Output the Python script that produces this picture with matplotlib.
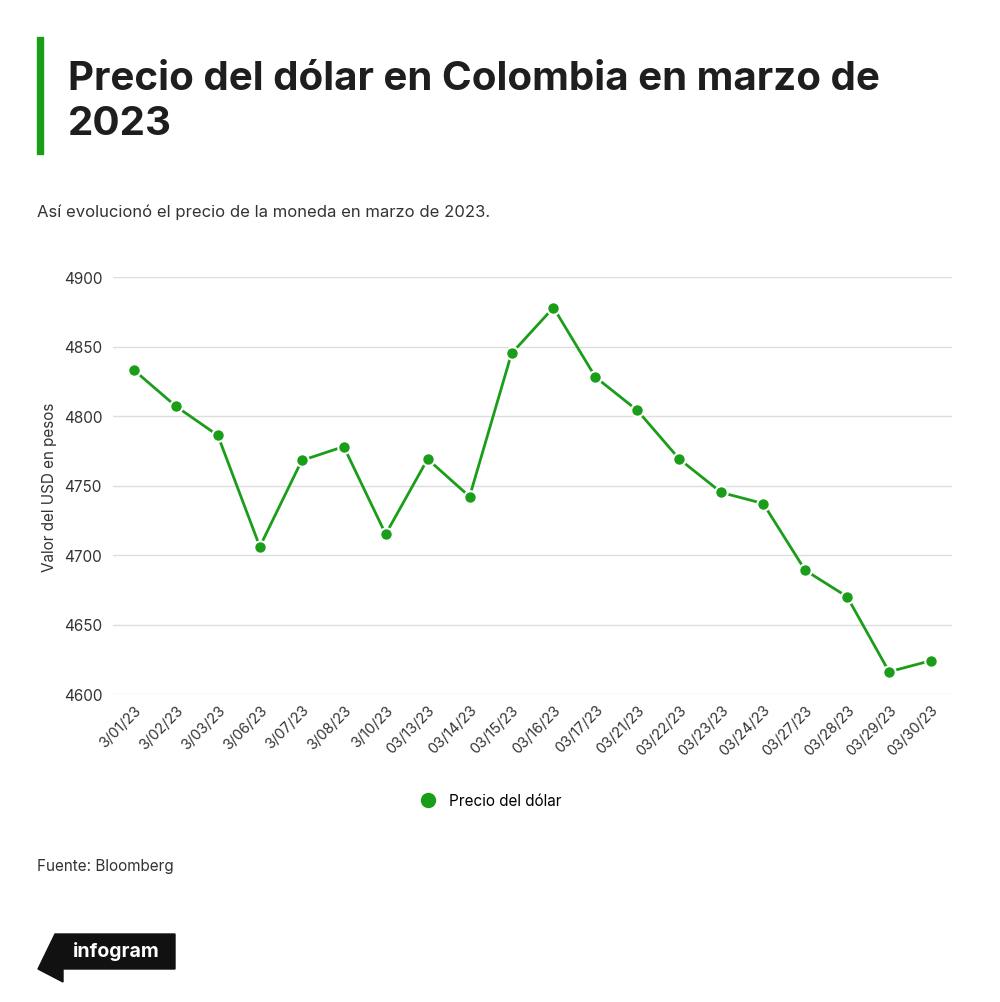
import matplotlib.pyplot as plt
from matplotlib.patches import Polygon

plt.rcParams['font.family'] = ['Inter', 'DejaVu Sans']

fechas = ['3/01/23', '3/02/23', '3/03/23', '3/06/23', '3/07/23', '3/08/23', '3/10/23',
          '03/13/23', '03/14/23', '03/15/23', '03/16/23', '03/17/23', '03/21/23',
          '03/22/23', '03/23/23', '03/24/23', '03/27/23', '03/28/23', '03/29/23', '03/30/23']
precios = [4833, 4807, 4786, 4706, 4768, 4778, 4715, 4769, 4742, 4845,
           4878, 4828, 4804, 4769, 4745, 4737, 4689, 4670, 4616, 4624]
yticks = [4600, 4650, 4700, 4750, 4800, 4850, 4900]

green = '#1a9e1a'
fig = plt.figure(figsize=(10, 10.03), dpi=100)
fig.patch.set_facecolor('white')

# title bar
fig.add_artist(plt.Rectangle((0.037, 1 - 155 / 1003), 0.006, 117 / 1003,
                             transform=fig.transFigure, color=green))
fig.text(0.068, 1 - 102 / 1003, 'Precio del dólar en Colombia en marzo de\n2023',
         fontsize=29, fontweight='bold', color='#1e1e1e', va='center',
         linespacing=1.3)
fig.text(0.037, 1 - 212 / 1003, 'Así evolucionó el precio de la moneda en marzo de 2023.',
         fontsize=12, color='#333333', va='center')

ax = fig.add_axes([0.113, 1 - 695 / 1003, 0.839, 417 / 1003])
x = range(len(fechas))
ax.plot(x, precios, color=green, lw=2, marker='o', ms=9,
        markeredgecolor='white', markeredgewidth=1.5, label='Precio del dólar')
ax.set_xlim(-0.5, len(fechas) - 0.5)
ax.set_ylim(4600, 4900)
ax.set_yticks(yticks)
ax.set_xticks(list(x))
ax.set_xticklabels(fechas, rotation=45, ha='right', rotation_mode='anchor',
                   fontsize=10.5, color='#333333')
ax.tick_params(axis='y', labelsize=11, colors='#333333', length=0, pad=2)
for lab in ax.get_yticklabels():
    lab.set_horizontalalignment('left')
    lab.set_x(-0.055)
ax.tick_params(axis='x', length=0, pad=6)
ax.grid(axis='y', color='#dddddd', lw=1)
for s in ax.spines.values():
    s.set_visible(False)
fig.text(0.05, 1 - 487 / 1003, 'Valor del USD en pesos', fontsize=11, color='#333333',
         rotation=90, ha='center', va='center')

fig.legend(handles=ax.get_lines(), loc='center', bbox_to_anchor=(0.49, 1 - 802 / 1003),
           frameon=False, fontsize=11, markerscale=1.4, handlelength=1.2)
for t in fig.legends[0].get_lines():
    t.set_linestyle('none')

fig.text(0.037, 1 - 866 / 1003, 'Fuente: Bloomberg', fontsize=11, color='#333333', va='center')

# infogram logo
fig.add_artist(Polygon([(0.055, 1 - 935 / 1003), (0.175, 1 - 935 / 1003),
                        (0.175, 1 - 970 / 1003), (0.063, 1 - 970 / 1003),
                        (0.063, 1 - 983 / 1003), (0.038, 1 - 970 / 1003)],
                       closed=True, transform=fig.transFigure, color='#111111'))
fig.text(0.073, 1 - 952 / 1003, 'infogram', fontsize=14, fontweight='bold',
         color='white', va='center')

fig.savefig('out.png', dpi=100)
